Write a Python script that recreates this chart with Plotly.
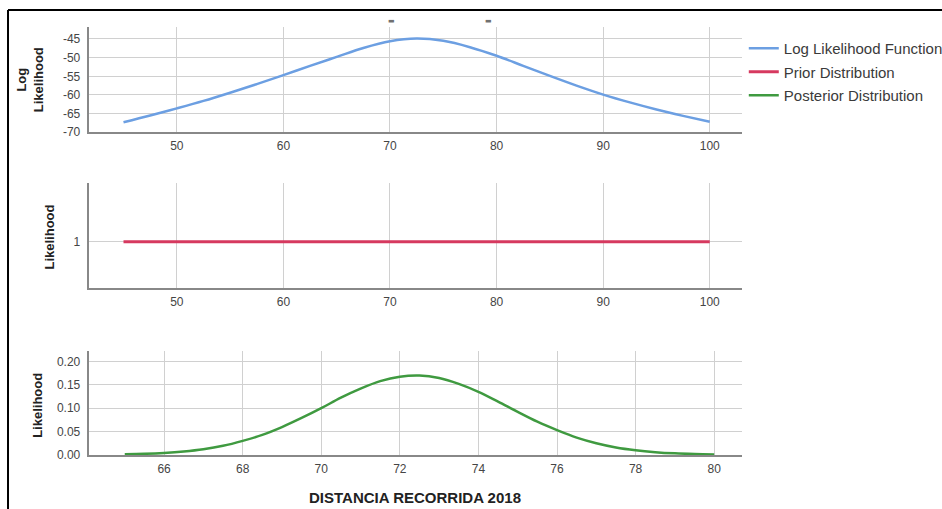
import plotly.graph_objects as go

# ---- data ----
ll_x = [45, 47.5, 50, 52.5, 55, 57.5, 60, 62.5, 65, 67.5, 70, 72.5, 75,
        77.5, 80, 82.5, 85, 87.5, 90, 92.5, 95, 97.5, 100]
ll_y = [-67.3, -65.5, -63.6, -61.6, -59.4, -57.1, -54.7, -52.2, -49.8, -47.4,
        -45.6, -44.9, -45.5, -47.2, -49.5, -52.2, -54.9, -57.5,
        -59.9, -62.0, -63.9, -65.6, -67.2]

prior_x = [45, 100]
prior_y = [1, 1]

post_x = [65, 65.5, 66, 66.5, 67, 67.5, 68, 68.5, 69, 69.5, 70, 70.5, 71, 71.5,
          72, 72.5, 73, 73.5, 74, 74.5, 75, 75.5, 76, 76.5, 77, 77.5, 78, 78.5,
          79, 79.5, 80]
post_y = [0.0012, 0.0023, 0.0042, 0.0073, 0.0121, 0.0194, 0.030, 0.0428, 0.0595,
          0.079, 0.100, 0.1226, 0.142, 0.158, 0.1675, 0.170, 0.1646, 0.152, 0.135,
          0.114, 0.092, 0.071, 0.053, 0.037, 0.025, 0.016, 0.010, 0.0059, 0.0033,
          0.0018, 0.0009]

top_ticks = [-70, -65, -60, -55, -50, -45]
top_labels = ["-70", "-65", "-60", "-55", "-50", "-45"]
names = ["Log Likelihood Function", "Prior Distribution", "Posterior Distribution"]
colors = ["#6c9fe2", "#d6395f", "#3f9a40"]

W, H = 942, 509          # reference pixel space used for layout fractions
FW, FH = 948, 517        # figure size (compensates for capture scaling)

fig = go.Figure()
fig.add_trace(go.Scatter(x=ll_x, y=ll_y, mode="lines",
                         line=dict(color=colors[0], width=2.5, shape="spline", smoothing=1.0),
                         name=names[0], xaxis="x", yaxis="y", legendgroup="a"))
fig.add_trace(go.Scatter(x=prior_x, y=prior_y, mode="lines", line=dict(color=colors[1], width=3),
                         name=names[1], xaxis="x2", yaxis="y2", legendgroup="b"))
fig.add_trace(go.Scatter(x=post_x, y=post_y, mode="lines",
                         line=dict(color=colors[2], width=2.5, shape="spline"),
                         name=names[2], xaxis="x3", yaxis="y3", legendgroup="c"))

xl, xr = 89.3 / W, 741.7 / W
def pd(top, bot):
    return [1 - bot / H, 1 - top / H]

tickfont = dict(family="Liberation Sans, Arial", size=12, color="#454545")
grid = "#d0d0d0"
axline = "#888888"

common_x = dict(showgrid=True, gridcolor=grid, gridwidth=1, showline=True, linecolor=axline,
                linewidth=1.5, zeroline=False, ticks="", tickfont=tickfont, ticklabelstandoff=2)
common_y = dict(showgrid=True, gridcolor=grid, gridwidth=1, showline=True, linecolor=axline,
                linewidth=1.5, zeroline=False, ticks="", tickfont=tickfont, ticklabelstandoff=5)

fig.update_layout(
    width=FW, height=FH, autosize=False,
    margin=dict(l=0, r=0, t=0, b=0, pad=0),
    paper_bgcolor="white", plot_bgcolor="white",
    xaxis=dict(domain=[xl, xr], range=[41.8, 103.07], tickvals=[50, 60, 70, 80, 90, 100], anchor="y", **common_x),
    yaxis=dict(domain=pd(27, 132), range=[-70, -41.8], tickvals=top_ticks, ticktext=top_labels,
               anchor="x", **common_y),
    xaxis2=dict(domain=[xl, xr], range=[41.8, 103.07], tickvals=[50, 60, 70, 80, 90, 100], anchor="y2", **common_x),
    yaxis2=dict(domain=pd(183, 287), range=[0.56, 1.56], tickvals=[1], anchor="x2", **common_y),
    xaxis3=dict(domain=[xl, xr], range=[64.1, 80.72], tickvals=[66, 68, 70, 72, 74, 76, 78, 80], anchor="y3", **common_x),
    yaxis3=dict(domain=pd(350.7, 454), range=[0, 0.2216], tickvals=[0, 0.05, 0.10, 0.15, 0.20],
                tickformat=".2f", anchor="x3", **common_y),
    showlegend=True,
    legend=dict(x=743 / W, y=1 - 32 / H, xanchor="left", yanchor="top", bgcolor="rgba(0,0,0,0)",
                font=dict(family="Liberation Sans, Arial", size=15, color="#3a3a3a"),
                tracegroupgap=1, itemwidth=30),
)

titlefont = dict(family="Liberation Sans, Arial", size=13, color="#222222")
anns = [
    dict(text="<b>Log<br>Likelihood</b>", x=30 / W, y=1 - 80 / H, textangle=-90),
    dict(text="<b>Likelihood</b>", x=49 / W, y=1 - 237 / H, textangle=-90),
    dict(text="<b>Likelihood</b>", x=38 / W, y=1 - 405 / H, textangle=-90),
]
for a in anns:
    fig.add_annotation(xref="paper", yref="paper", showarrow=False, font=titlefont,
                       xanchor="center", yanchor="middle", **a)
fig.add_annotation(text="<b>DISTANCIA RECORRIDA 2018</b>", xref="paper", yref="paper",
                   x=415 / W, y=1 - 497 / H, showarrow=False, xanchor="center", yanchor="middle",
                   font=dict(family="Liberation Sans, Arial", size=15, color="#222222"))
# small dashes above top panel
for xv in [70.1, 79.2]:
    fig.add_annotation(text="▬", xref="x", yref="paper", x=xv, y=1 - 21 / H, showarrow=False,
                       xanchor="center", yanchor="middle",
                       font=dict(family="DejaVu Sans", size=7, color="#707070"))

# outer frame (top and left edges)
fig.add_shape(type="line", xref="paper", yref="paper", x0=8 / W, x1=1.02, y0=1 - 10 / H, y1=1 - 10 / H,
              line=dict(color="black", width=2))
fig.add_shape(type="line", xref="paper", yref="paper", x0=8 / W, x1=8 / W, y0=-0.05, y1=1 - 10 / H,
              line=dict(color="black", width=2))

fig.write_html("out.html", config={"responsive": False})
